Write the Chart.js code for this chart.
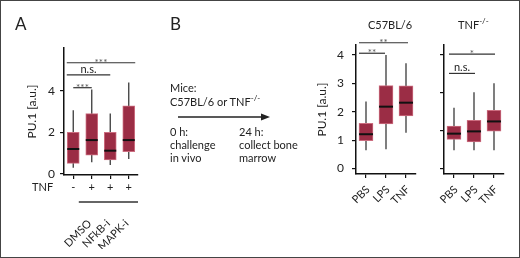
<!DOCTYPE html>
<html>
<head>
<meta charset="utf-8">
<script src="https://cdn.jsdelivr.net/npm/chart.js@4.4.0/dist/chart.umd.min.js"></script>
<style>
  html, body { margin: 0; padding: 0; background: #fff; }
  #fig { position: relative; width: 520px; height: 258px; overflow: hidden; font-family: Lato, sans-serif; color: #222; }
  #fig canvas { position: absolute; left: 0; top: 0; }
  .frame { position: absolute; left: 0; top: 0; width: 520px; height: 258px; box-sizing: border-box; border: 1px solid #444; }
  .t { position: absolute; font-size: 11px; line-height: 13px; white-space: nowrap; }
  .big { font-size: 17px; line-height: 17px; }
  .sup { font-size: 8px; position: relative; top: -5px; }
  svg { position: absolute; left: 0; top: 0; }
</style>
</head>
<body>
<div id="fig">
  <canvas id="chartA" width="520" height="258"></canvas>
  <canvas id="chartWT" width="520" height="258"></canvas>
  <canvas id="chartKO" width="520" height="258"></canvas>

  <div class="t big" style="left:15px; top:15px;">A</div>
  <div class="t big" style="left:170px; top:15px;">B</div>
  <div class="t" style="left:32px; top:180px;">TNF</div>

  <div class="t" style="left:170px; top:81px;">Mice:</div>
  <div class="t" style="left:170px; top:95px;">C57BL/6 or TNF<span class="sup">-/-</span></div>
  <div class="t" style="left:170px; top:125px;">0 h:<br>challenge<br>in vivo</div>
  <div class="t" style="left:239px; top:125px;">24 h:<br>collect bone<br>marrow</div>
  <svg width="520" height="258">
    <line x1="178" y1="117" x2="263" y2="117" stroke="#222" stroke-width="1.3"/>
    <polygon points="261,113.5 270,117 261,120.5" fill="#222"/>
  </svg>

  <div class="t" style="left:368px; top:18px;">C57BL/6</div>
  <div class="t" style="left:458px; top:18px;">TNF<span class="sup">-/-</span></div>
  <div class="frame"></div>
</div>
<script>
// panel A: in vitro
const groupsA = ['-', '+', '+', '+'];
const treatA = ['', 'DMSO', 'NFkB-i', 'MAPK-i'];
const lowA = [0.3, 0.56, 0.43, 0.72];
const q1A = [0.51, 0.91, 0.67, 1.07];
const medA = [1.2, 1.63, 1.12, 1.63];
const q3A = [2.0, 2.9, 2.0, 3.28];
const highA = [3.07, 4.06, 2.91, 4.4];
const ticksA = [0, 2, 4];

// panel B: in vivo
const groupsB = ['PBS', 'LPS', 'TNF'];
const lowWT = [0.65, 0.68, 1.26];
const q1WT = [0.98, 1.57, 1.85];
const medWT = [1.21, 2.18, 2.32];
const q3WT = [1.59, 2.92, 2.91];
const highWT = [2.36, 4.0, 3.71];

const lowKO = [0.65, 0.65, 0.65];
const q1KO = [1.03, 0.94, 1.32];
const medKO = [1.23, 1.31, 1.66];
const q3KO = [1.5, 1.7, 2.05];
const highKO = [2.14, 2.69, 3.0];
const ticksWT = [0, 1, 2, 3, 4];
const ticksKO = [0, 4 / 3, 8 / 3, 4];

const sigA = [
    { from: 0, to: 1, y: 4.15, text: '***' },
    { from: -0.35, to: 2, y: 4.77, text: 'n.s.' },
    { from: -0.35, to: 3.35, y: 5.35, text: '***' }
];
const sigWT = [
    { from: -0.35, to: 0.95, y: 4.06, text: '**' },
    { from: -0.35, to: 2.1, y: 4.43, text: '**' }
];
const sigKO = [
    { from: -0.25, to: 1.05, y: 3.35, text: 'n.s.' },
    { from: -0.25, to: 2.05, y: 4.03, text: '*' }
];

const font = 'Lato, sans-serif';
const boxFill = '#9b2d45';
const boxEdge = '#cc6e80';

// whiskers behind the boxes, medians on top
const boxPlugin = {
    id: 'boxes',
    beforeDatasetsDraw(chart) {
        const { ctx, scales: { x, y } } = chart;
        const ds = chart.data.datasets[0];
        ctx.save();
        ctx.strokeStyle = '#3a3a3a';
        ctx.lineWidth = 1.3;
        ds.low.forEach((v, i) => {
            const px = x.getPixelForValue(i);
            ctx.beginPath();
            ctx.moveTo(px, y.getPixelForValue(v));
            ctx.lineTo(px, y.getPixelForValue(ds.high[i]));
            ctx.stroke();
        });
        ctx.restore();
    },
    afterDatasetsDraw(chart) {
        const { ctx, scales: { y } } = chart;
        const ds = chart.data.datasets[0];
        const bars = chart.getDatasetMeta(0).data;
        ctx.save();
        ctx.strokeStyle = '#111';
        ctx.lineWidth = 2;
        ds.median.forEach((v, i) => {
            const b = bars[i];
            const py = y.getPixelForValue(v);
            ctx.beginPath();
            ctx.moveTo(b.x - b.width / 2, py);
            ctx.lineTo(b.x + b.width / 2, py);
            ctx.stroke();
        });
        ctx.restore();
    }
};

function sigPlugin(items) {
    return {
        id: 'sig',
        afterDraw(chart) {
            const { ctx, scales: { x, y } } = chart;
            ctx.save();
            items.forEach(s => {
                const x1 = x.getPixelForValue(s.from);
                const x2 = x.getPixelForValue(s.to);
                const py = y.getPixelForValue(s.y);
                ctx.strokeStyle = '#333';
                ctx.lineWidth = 1.2;
                ctx.beginPath();
                ctx.moveTo(x1, py);
                ctx.lineTo(x2, py);
                ctx.stroke();
                ctx.textAlign = 'center';
                ctx.textBaseline = 'alphabetic';
                if (s.text.startsWith('*')) {
                    ctx.fillStyle = '#555';
                    ctx.font = '10px ' + font;
                    ctx.fillText(s.text, (x1 + x2) / 2, py + 3);
                } else {
                    ctx.fillStyle = '#222';
                    ctx.font = '11px ' + font;
                    ctx.fillText(s.text, (x1 + x2) / 2, py - 2);
                }
            });
            ctx.restore();
        }
    };
}

// line under the treated columns of panel A
const treatLine = {
    id: 'treatLine',
    afterDraw(chart) {
        const { ctx, scales: { x } } = chart;
        ctx.save();
        ctx.strokeStyle = '#333';
        ctx.lineWidth = 1.3;
        ctx.beginPath();
        ctx.moveTo(x.getPixelForValue(0.3), 202);
        ctx.lineTo(x.getPixelForValue(3.5), 202);
        ctx.stroke();
        ctx.restore();
    }
};

function axisY(min, max, ticks, cfg) {
    return {
        min: min,
        max: max,
        afterBuildTicks: s => { s.ticks = ticks.map(v => ({ value: v })); },
        afterFit: s => { s.width = cfg.width; },
        ticks: {
            display: cfg.labels,
            font: { size: 12, family: font },
            color: '#222',
            padding: cfg.pad
        },
        grid: { drawOnChartArea: false, drawTicks: true, tickLength: 4, color: '#111', lineWidth: 1.2 },
        border: { color: '#111', width: 1.5 },
        title: {
            display: cfg.title,
            text: 'PU.1 [a.u.]',
            color: '#222',
            font: { size: 12, family: font },
            padding: { top: cfg.titlePad, bottom: 0 }
        }
    };
}

function makeBoxChart(id, cats, low, q1, med, q3, high, opt) {
    const scales = {
        x: {
            offset: true,
            afterFit: s => { s.height = opt.xHeight; },
            ticks: {
                font: { size: 11, family: font },
                color: '#222',
                padding: opt.xPad,
                minRotation: opt.rot,
                maxRotation: opt.rot,
                labelOffset: opt.rot ? 2 : 0,
                autoSkip: false
            },
            grid: { offset: false, drawOnChartArea: false, drawTicks: true, tickLength: 4, color: '#111', lineWidth: 1.2 },
            border: { color: '#111', width: 1.5 }
        },
        y: axisY(opt.min, opt.max, opt.yTicks, opt.y)
    };
    if (opt.extraLabels) {
        scales.x2 = {
            type: 'category',
            labels: opt.extraLabels,
            position: 'bottom',
            offset: true,
            afterFit: s => { s.height = 50; },
            ticks: {
                font: { size: 11, family: font },
                color: '#222',
                padding: 18,
                minRotation: 45,
                maxRotation: 45,
                labelOffset: -2,
                autoSkip: false
            },
            grid: { display: false, drawTicks: false },
            border: { display: false }
        };
    }
    return new Chart(document.getElementById(id), {
        type: 'bar',
        data: {
            labels: cats,
            datasets: [{
                data: q1.map((v, i) => [v, q3[i]]),
                low: low,
                median: med,
                high: high,
                backgroundColor: boxFill,
                borderColor: boxEdge,
                borderWidth: 1,
                borderSkipped: false,
                barThickness: opt.barW
            }]
        },
        options: {
            responsive: false,
            animation: false,
            layout: { padding: opt.padding },
            plugins: { legend: { display: false }, tooltip: { enabled: false } },
            scales: scales
        },
        plugins: [boxPlugin, sigPlugin(opt.sig)].concat(opt.more || [])
    });
}

makeBoxChart('chartA', groupsA, lowA, q1A, medA, q3A, highA, {
    min: -0.05, max: 6.06, yTicks: ticksA,
    y: { width: 64, labels: true, pad: 5, title: true, titlePad: 25 },
    padding: { left: 0, right: 382, top: 48, bottom: 9 },
    xHeight: 24, xPad: 2, rot: 0, barW: 12,
    extraLabels: treatA, sig: sigA, more: [treatLine]
});

makeBoxChart('chartWT', groupsB, lowWT, q1WT, medWT, q3WT, highWT, {
    min: -0.19, max: 4.35, yTicks: ticksWT,
    y: { width: 44, labels: true, pad: 8, title: true, titlePad: 3 },
    padding: { left: 312, right: 104, top: 45, bottom: 0 },
    xHeight: 84, xPad: 5, rot: 45, barW: 14,
    sig: sigWT
});

makeBoxChart('chartKO', groupsB, lowKO, q1KO, medKO, q3KO, highKO, {
    min: -0.19, max: 4.35, yTicks: ticksKO,
    y: { width: 10, labels: false, pad: 4, title: false, titlePad: 0 },
    padding: { left: 434, right: 16, top: 45, bottom: 0 },
    xHeight: 84, xPad: 5, rot: 45, barW: 14,
    sig: sigKO
});
</script>
</body>
</html>
